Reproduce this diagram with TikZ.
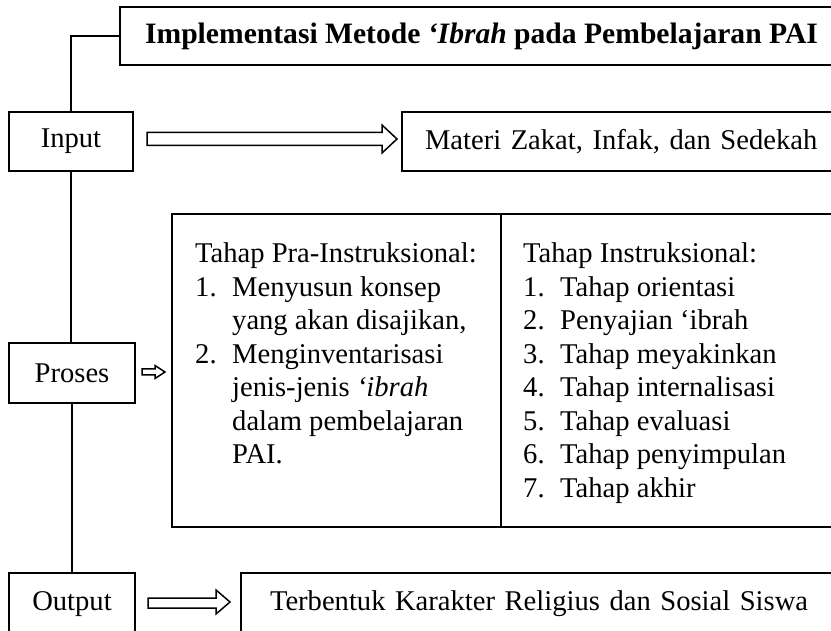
\documentclass[tikz,border=0pt]{standalone}
\usepackage{fontspec}
\setmainfont{Liberation Serif}
\begin{document}
\begin{tikzpicture}[x=1pt,y=-1pt,
  box/.style={draw, line width=1.6pt, inner sep=0pt, outer sep=0pt},
  blk/.style={draw, line width=1.5pt, line join=miter},
  conn/.style={line width=1.5pt},
  every node/.style={font=\fontsize{28.6}{33.5}\selectfont}]
\useasboundingbox (0,0) rectangle (831,631);
\clip (0,0) rectangle (831,631);
% boxes
\node[box, anchor=north west, minimum width=723pt, minimum height=58pt,
      font=\fontsize{29.6}{34}\selectfont\bfseries] (title) at (120,7)
  {Implementasi Metode \textit{‘Ibrah} pada Pembelajaran PAI};
\node[box, anchor=north west, minimum width=124pt, minimum height=59pt] (input) at (9,112) {Input};
\node[box, anchor=west, minimum height=59pt, inner xsep=23pt, text width=430pt, align=left] (materi) at (402,141.5)
  {Materi Zakat, Infak, dan Sedekah};
\node[box, anchor=north west, minimum width=126pt, minimum height=60pt] (proses) at (9,343) {Proses};
\node[box, anchor=north west, minimum width=329pt, minimum height=313pt] (pra) at (172,214) {};
\node[box, anchor=north west, minimum width=360pt, minimum height=313pt] (instr) at (501,214) {};
\node[anchor=base west, inner sep=0pt] (pratext) at (195,263) {%
  \begin{tabular}[t]{@{}l@{}}
  Tahap Pra-Instruksional:\\
  \makebox[37pt][l]{1.}Menyusun konsep\\
  \hspace*{37pt}yang akan disajikan,\\
  \makebox[37pt][l]{2.}Menginventarisasi\\
  \hspace*{37pt}jenis-jenis \textit{‘ibrah}\\
  \hspace*{37pt}dalam pembelajaran\\
  \hspace*{37pt}PAI.
  \end{tabular}};
\node[anchor=base west, inner sep=0pt] (instrtext) at (523,263) {%
  \begin{tabular}[t]{@{}l@{}}
  Tahap Instruksional:\\
  \makebox[37pt][l]{1.}Tahap orientasi\\
  \makebox[37pt][l]{2.}Penyajian ‘ibrah\\
  \makebox[37pt][l]{3.}Tahap meyakinkan\\
  \makebox[37pt][l]{4.}Tahap internalisasi\\
  \makebox[37pt][l]{5.}Tahap evaluasi\\
  \makebox[37pt][l]{6.}Tahap penyimpulan\\
  \makebox[37pt][l]{7.}Tahap akhir
  \end{tabular}};
\node[box, anchor=north west, minimum width=126pt, minimum height=62pt] (output) at (9,573) {Output};
\node[box, anchor=north west, minimum height=62pt, inner xsep=29pt, text width=560pt, align=left] (result) at (241,573)
  {Terbentuk Karakter Religius dan Sosial Siswa};
% connectors
\draw[conn] (input.north) |- (title.west);
\draw[conn] (input.south) -- (input.south |- proses.north);
\draw[conn] (proses.south) -- (proses.south |- output.north);
% block arrows
\draw[blk] (147,132.5) -- (382,132.5) -- (382,125) -- (397,139) -- (382,153) -- (382,145.5) -- (147,145.5) -- cycle;
\draw[blk] (142,369) -- (155,369) -- (155,365.5) -- (165,372) -- (155,378.5) -- (155,375) -- (142,375) -- cycle;
\draw[blk] (148,598) -- (216,598) -- (216,590) -- (230,602) -- (216,614) -- (216,608) -- (148,608) -- cycle;
\end{tikzpicture}
\end{document}
